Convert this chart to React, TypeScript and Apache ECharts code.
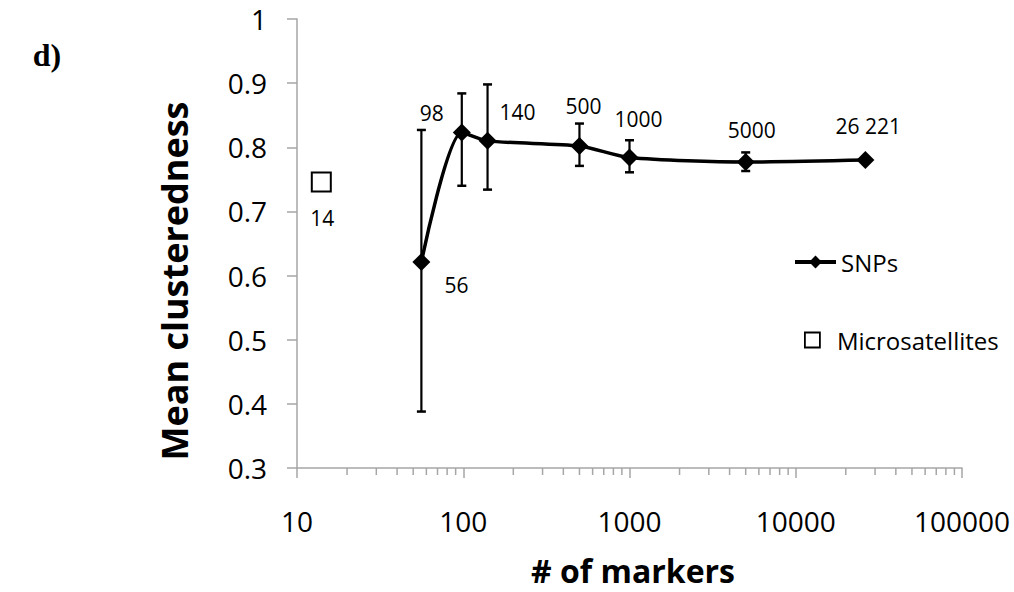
import React, { useEffect, useRef } from "react";
import * as echarts from "echarts";

// ---- data ----
const snpMarkers = [56, 98, 140, 500, 1000, 5000, 26221];
const snpLabels = ["56", "98", "140", "500", "1000", "5000", "26 221"];
const snpMean = [0.621, 0.823, 0.81, 0.802, 0.784, 0.777, 0.78];
const snpLower = [0.388, 0.74, 0.734, 0.771, 0.761, 0.763, null];
const snpUpper = [0.827, 0.884, 0.898, 0.837, 0.811, 0.792, null];

const msatMarkers = [14];
const msatLabels = ["14"];
const msatMean = [0.746];

const xTickLabels = ["10", "100", "1000", "10000", "100000"];
const minorTickValues = [
  20, 30, 40, 50, 60, 70, 80, 90,
  200, 300, 400, 500, 600, 700, 800, 900,
  2000, 3000, 4000, 5000, 6000, 7000, 8000, 9000,
  20000, 30000, 40000, 50000, 60000, 70000, 80000, 90000,
];

// label offsets (styling, px)
const snpLabelOffsets = [
  [35, 23], [-30, -20], [30, -29], [4, -40], [9, -39], [6, -32], [3, -34],
];
const msatLabelOffsets = [[1, 36]];

const FONT = "'Open Sans', sans-serif";
const AXIS_COLOR = "#a6a6a6";

export default function App() {
  const ref = useRef<HTMLDivElement>(null);

  useEffect(() => {
    if (!ref.current) return;
    const chart = echarts.init(ref.current, undefined, { renderer: "svg" });

    const labelBase = {
      show: true,
      position: "inside",
      fontFamily: FONT,
      fontSize: 21,
      color: "#000",
      textBorderWidth: 0,
      textBorderColor: "transparent",
      align: "center",
      verticalAlign: "middle",
    };

    const snpData = snpMarkers.map((x, i) => ({
      value: [x, snpMean[i]],
      label: { ...labelBase, formatter: snpLabels[i], offset: snpLabelOffsets[i] },
    }));
    const msatData = msatMarkers.map((x, i) => ({
      value: [x, msatMean[i]],
      label: { ...labelBase, formatter: msatLabels[i], offset: msatLabelOffsets[i] },
    }));
    const errData = snpMarkers
      .map((x, i) => [x, snpLower[i], snpUpper[i]])
      .filter((d) => d[1] != null && d[2] != null);
    const minorData = minorTickValues.map((v) => [v, 0.3]);

    const option: any = {
      animation: false,
      backgroundColor: "#ffffff",
      grid: { left: 297, right: 52, top: 19, bottom: 124 },
      xAxis: {
        type: "log",
        logBase: 10,
        min: 10,
        max: 100000,
        axisLine: { show: true, lineStyle: { color: AXIS_COLOR, width: 1.5 } },
        axisTick: { show: true, inside: false, length: 10, lineStyle: { color: AXIS_COLOR, width: 1.5 } },
        splitLine: { show: false },
        axisLabel: {
          margin: 39,
          fontFamily: FONT,
          fontSize: 28,
          color: "#000",
          formatter: (v: number) => xTickLabels[Math.round(Math.log10(v)) - 1] ?? String(v),
        },
      },
      yAxis: {
        type: "value",
        min: 0.3,
        max: 1,
        interval: 0.1,
        axisLine: { show: true, lineStyle: { color: AXIS_COLOR, width: 1.5 } },
        axisTick: { show: true, inside: false, length: 10, lineStyle: { color: AXIS_COLOR, width: 1.5 } },
        splitLine: { show: false },
        axisLabel: {
          margin: 30,
          fontFamily: FONT,
          fontSize: 28,
          color: "#000",
          formatter: (v: number) => String(Number(v.toFixed(1))),
        },
      },
      legend: [
        {
          orient: "vertical",
          left: 788,
          top: 245,
          itemWidth: 41,
          itemHeight: 16,
          lineStyle: { width: 4, color: "#000" },
          textStyle: { fontFamily: FONT, fontSize: 24, color: "#000" },
          data: ["SNPs"],
        },
        {
          orient: "vertical",
          left: 799,
          top: 323,
          itemWidth: 15,
          itemHeight: 15,
          itemStyle: { opacity: 1, borderWidth: 1.8, borderColor: "#000", color: "#fff" },
          textStyle: { fontFamily: FONT, fontSize: 24, color: "#000", padding: [0, 0, 0, 12] },
          data: ["Microsatellites"],
        },
      ],
      series: [
        {
          name: "minorTicks",
          type: "custom",
          silent: true,
          clip: false,
          data: minorData,
          encode: { x: 0, y: 1 },
          renderItem: (params: any, api: any) => {
            const p = api.coord([api.value(0), api.value(1)]);
            return {
              type: "line",
              shape: { x1: p[0], y1: p[1], x2: p[0], y2: p[1] + 7 },
              style: { stroke: AXIS_COLOR, lineWidth: 1.5 },
            };
          },
          z: 1,
        },
        {
          name: "errorBars",
          type: "custom",
          silent: true,
          data: errData,
          encode: { x: 0, y: [1, 2] },
          renderItem: (params: any, api: any) => {
            const x = api.value(0);
            const lo = api.coord([x, api.value(1)]);
            const hi = api.coord([x, api.value(2)]);
            const hw = 4.5;
            const st = { stroke: "#000", lineWidth: 2.2 };
            return {
              type: "group",
              children: [
                { type: "line", shape: { x1: lo[0], y1: lo[1], x2: hi[0], y2: hi[1] }, style: st },
                { type: "line", shape: { x1: lo[0] - hw, y1: lo[1], x2: lo[0] + hw, y2: lo[1] }, style: { stroke: "#000", lineWidth: 2.5 } },
                { type: "line", shape: { x1: hi[0] - hw, y1: hi[1], x2: hi[0] + hw, y2: hi[1] }, style: { stroke: "#000", lineWidth: 2.5 } },
              ],
            };
          },
          z: 2,
        },
        {
          name: "SNPs",
          type: "line",
          data: snpData,
          smooth: 0.25,
          symbol: "diamond",
          symbolSize: 18,
          showAllSymbol: true,
          lineStyle: { color: "#000", width: 3.5 },
          itemStyle: { color: "#000", borderWidth: 0 },
          z: 3,
        },
        {
          name: "Microsatellites",
          type: "scatter",
          data: msatData,
          symbol: "rect",
          symbolSize: 19,
          itemStyle: { color: "#fff", borderColor: "#000", borderWidth: 2, opacity: 1 },
          z: 3,
        },
      ],
      graphic: [
        {
          type: "text",
          x: 47,
          y: 55,
          style: {
            text: "d)",
            fontFamily: "'Liberation Serif', serif",
            fontWeight: "bold",
            fontSize: 32,
            fill: "#000",
            align: "center",
            verticalAlign: "middle",
          },
        },
        {
          type: "text",
          x: 174,
          y: 281,
          rotation: Math.PI / 2,
          style: {
            text: "Mean clusteredness",
            fontFamily: FONT,
            fontWeight: "bold",
            fontSize: 36,
            fill: "#000",
            align: "center",
            verticalAlign: "middle",
          },
        },
        {
          type: "text",
          x: 633,
          y: 570,
          style: {
            text: "# of markers",
            fontFamily: FONT,
            fontWeight: "bold",
            fontSize: 32,
            fill: "#000",
            align: "center",
            verticalAlign: "middle",
          },
        },
      ],
    };

    chart.setOption(option);
    return () => chart.dispose();
  }, []);

  return (
    <div
      ref={ref}
      style={{ position: "fixed", left: 0, top: 0, width: 1014, height: 592, background: "#fff" }}
    />
  );
}
